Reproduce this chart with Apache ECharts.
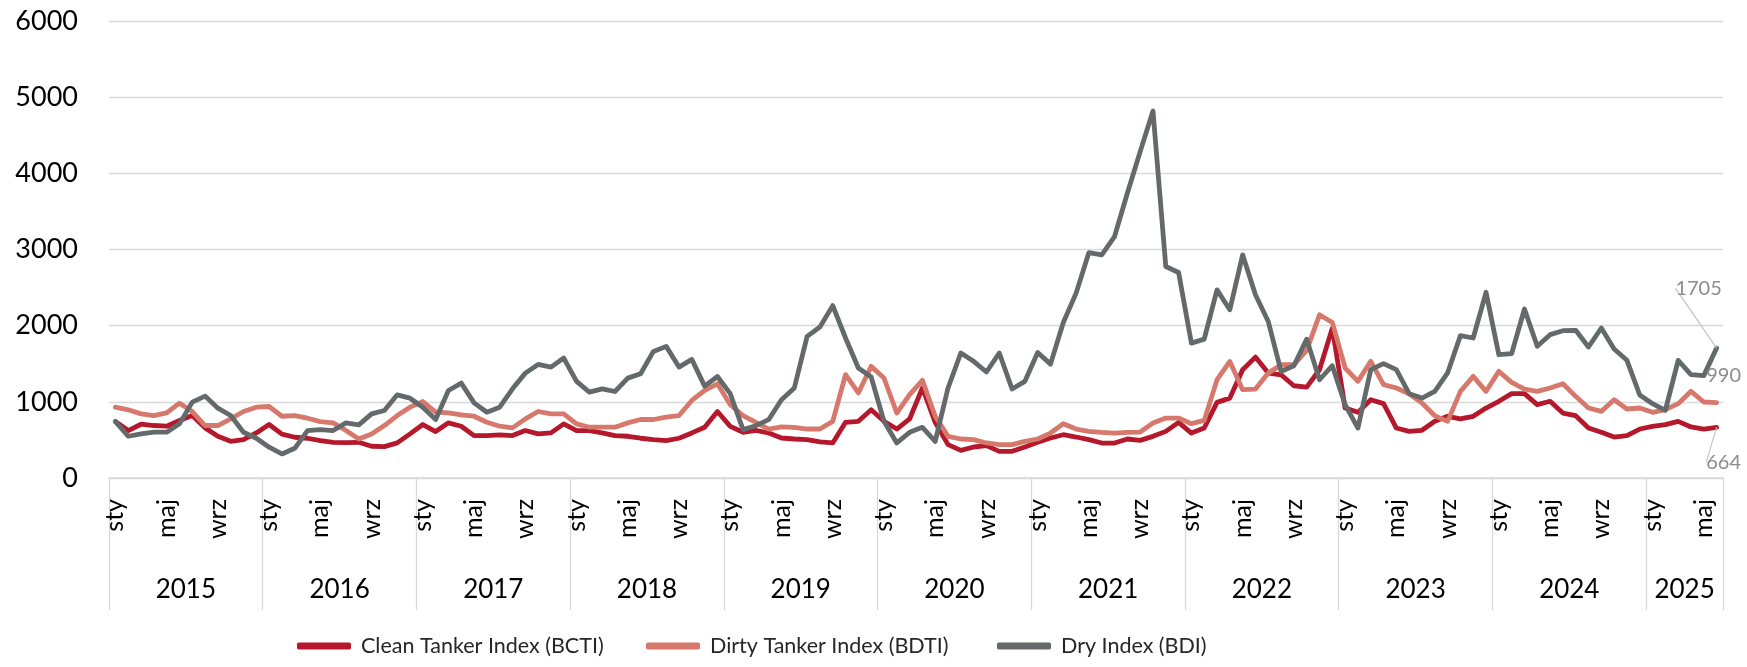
<!DOCTYPE html>
<html>
<head>
<meta charset="utf-8">
<title>Baltic indices</title>
<script src="https://cdn.jsdelivr.net/npm/echarts@6/dist/echarts.min.js"></script>
<style>
  html, body { margin: 0; padding: 0; background: #ffffff; }
  #chart { width: 1747px; height: 667px; }
</style>
</head>
<body>
<div id="chart"></div>
<script>
// Monthly averages, January 2015 – June 2025
const years = ['2015', '2016', '2017', '2018', '2019', '2020', '2021', '2022', '2023', '2024', '2025'];
const monthNames = ['sty', 'lut', 'mar', 'kwi', 'maj', 'cze', 'lip', 'sie', 'wrz', 'paź', 'lis', 'gru'];
const monthsInLastYear = 6;

const bcti = [
  741, 623, 706, 689, 680, 754, 820, 658, 548, 482, 504, 592,
  702, 575, 535, 522, 491, 469, 465, 469, 417, 412, 461, 579,
  702, 610, 724, 680, 557, 557, 566, 557, 623, 579, 592, 711,
  623, 623, 592, 557, 548, 522, 504, 491, 522, 592, 667, 873,
  678, 600, 626, 591, 525, 512, 503, 473, 460, 731, 744, 897,
  744, 643, 775, 1182, 730, 438, 363, 407, 425, 350, 350, 407,
  468, 525, 568, 538, 503, 459, 459, 512, 494, 547, 612, 730,
  590, 656, 993, 1049, 1421, 1587, 1377, 1355, 1211, 1194, 1421, 1968,
  919, 862, 1028, 976, 656, 613, 626, 744, 810, 775, 810, 919,
  1007, 1107, 1107, 963, 1007, 853, 818, 656, 600, 538, 556, 643,
  678, 700, 744, 670, 643, 664
];

const bdti = [
  930, 895, 842, 820, 855, 982, 873, 689, 689, 776, 873, 930,
  939, 811, 820, 785, 741, 724, 623, 513, 579, 689, 820, 930,
  1004, 864, 855, 829, 811, 732, 680, 658, 776, 873, 842, 842,
  711, 667, 667, 667, 724, 768, 768, 798, 820, 1018, 1149, 1237,
  963, 818, 731, 643, 670, 665, 643, 643, 744, 1357, 1116, 1466,
  1313, 853, 1094, 1282, 810, 547, 512, 503, 460, 438, 438, 481,
  512, 590, 713, 643, 612, 599, 590, 599, 603, 721, 787, 787,
  713, 756, 1290, 1530, 1159, 1167, 1377, 1487, 1487, 1675, 2143, 2042,
  1444, 1269, 1532, 1225, 1182, 1107, 985, 818, 744, 1138, 1335, 1138,
  1400, 1256, 1168, 1138, 1182, 1238, 1072, 919, 875, 1028, 906, 919,
  862, 897, 976, 1138, 998, 990
];

const bdi = [
  741, 548, 579, 601, 601, 711, 996, 1075, 917, 820, 601, 522,
  404, 316, 390, 623, 636, 623, 724, 697, 842, 886, 1092, 1048,
  930, 768, 1149, 1246, 987, 864, 930, 1171, 1377, 1491, 1456, 1575,
  1268, 1127, 1171, 1136, 1311, 1368, 1662, 1728, 1456, 1557, 1206, 1333,
  1107, 635, 687, 766, 1028, 1182, 1860, 1982, 2263, 1838, 1444, 1326,
  744, 460, 600, 665, 481, 1182, 1641, 1532, 1392, 1641, 1168, 1269,
  1648, 1495, 2042, 2427, 2960, 2930, 3170, 3738, 4285, 4818, 2777, 2698,
  1771, 1823, 2470, 2208, 2930, 2405, 2055, 1399, 1474, 1823, 1290, 1474,
  963, 656, 1422, 1501, 1422, 1107, 1050, 1138, 1379, 1869, 1838, 2438,
  1619, 1632, 2219, 1729, 1882, 1934, 1939, 1720, 1969, 1694, 1545, 1090,
  976, 888, 1545, 1357, 1344, 1705
];

const seriesNames = ['Clean Tanker Index (BCTI)', 'Dirty Tanker Index (BDTI)', 'Dry Index (BDI)'];
const yTicks = [0, 1000, 2000, 3000, 4000, 5000, 6000];

// category keys "YYYY-MM"
const categories = [];
years.forEach((y, yi) => {
  const n = yi === years.length - 1 ? monthsInLastYear : 12;
  for (let m = 0; m < n; m++) categories.push(y + '-' + String(m + 1).padStart(2, '0'));
});

const FONT = 'Lato';
const W = 1747;
const GRID = { left: 109, right: 24, top: 21, bottom: 189 };
const bandWidth = (W - GRID.left - GRID.right) / categories.length;
const GRID_LINE = '#d9d9d9';

// each year label is attached to the month just past the middle of that year
// and then pulled back half a band so it centres on the year's span
const yearLabelIndex = {};
years.forEach((y, yi) => {
  const start = yi * 12;
  const n = yi === years.length - 1 ? monthsInLastYear : 12;
  yearLabelIndex[start + n / 2] = y;
});

// only the final value of each series carries a label
function withEndLabel(values) {
  return values.map((v, i) => i === values.length - 1
    ? { value: v, label: { show: true } }
    : v);
}

function lineSeries(name, values, color, layout, withLine) {
  return {
    name: name,
    type: 'line',
    data: withEndLabel(values),
    symbol: 'circle',
    symbolSize: 0,
    showSymbol: true,
    showAllSymbol: true,
    lineStyle: { width: 4.8, color: color, cap: 'round', join: 'round' },
    itemStyle: { color: color },
    label: {
      show: false,
      position: 'top',
      formatter: '{c}',
      color: '#8c8c8c',
      fontFamily: FONT,
      fontSize: 20
    },
    labelLayout: layout,
    labelLine: { show: withLine, lineStyle: { color: '#c4c4c4', width: 1.2 } },
    emphasis: { disabled: true }
  };
}

const chart = echarts.init(document.getElementById('chart'), null, { renderer: 'canvas' });

const legendBase = {
  bottom: 5,
  icon: 'roundRect',
  itemWidth: 54,
  itemHeight: 7,
  textStyle: { fontFamily: FONT, fontSize: 21.5, color: '#262626', padding: [0, 0, 0, 5] },
  selectedMode: false
};

chart.setOption({
  animation: false,
  backgroundColor: '#ffffff',
  textStyle: { fontFamily: FONT },
  grid: GRID,
  legend: [
    Object.assign({}, legendBase, { left: 292, data: [seriesNames[0]] }),
    Object.assign({}, legendBase, { left: 641, data: [seriesNames[1]] }),
    Object.assign({}, legendBase, { left: 992, data: [seriesNames[2]] })
  ],
  xAxis: [
    {
      type: 'category',
      position: 'bottom',
      data: categories,
      boundaryGap: true,
      axisLine: { show: true, lineStyle: { color: GRID_LINE, width: 1.5 } },
      axisTick: {
        show: true,
        interval: (i) => i % 12 === 0,
        length: 132,
        lineStyle: { color: GRID_LINE, width: 1.3 }
      },
      axisLabel: {
        interval: 3,
        rotate: 90,
        margin: 21,
        fontFamily: FONT,
        fontSize: 25,
        color: '#000000',
        formatter: (v, i) => monthNames[i % 12]
      },
      splitLine: { show: false }
    },
    {
      type: 'category',
      position: 'bottom',
      data: categories,
      boundaryGap: true,
      axisLine: { show: false },
      axisTick: { show: false },
      axisLabel: {
        interval: (i) => Object.prototype.hasOwnProperty.call(yearLabelIndex, i),
        margin: 99,
        fontFamily: FONT,
        fontSize: 26,
        color: '#000000',
        padding: [0, bandWidth, 0, 0],
        formatter: (v, i) => yearLabelIndex[i] || ''
      },
      splitLine: { show: false }
    }
  ],
  yAxis: {
    type: 'value',
    min: yTicks[0],
    max: yTicks[yTicks.length - 1],
    interval: 1000,
    axisLine: { show: false },
    axisTick: { show: false },
    axisLabel: {
      margin: 31,
      fontFamily: FONT,
      fontSize: 27,
      color: '#000000',
      formatter: (v) => String(v)
    },
    splitLine: { lineStyle: { color: GRID_LINE, width: 1.3 } }
  },
  series: [
    lineSeries(seriesNames[0], bcti, '#b5172b', { dx: 7, dy: 50 }, true),
    lineSeries(seriesNames[1], bdti, '#d6796c', { dx: 7, dy: -12 }, false),
    lineSeries(seriesNames[2], bdi, '#646a6b', { dx: -18, dy: -45 }, true)
  ]
});
</script>
</body>
</html>
